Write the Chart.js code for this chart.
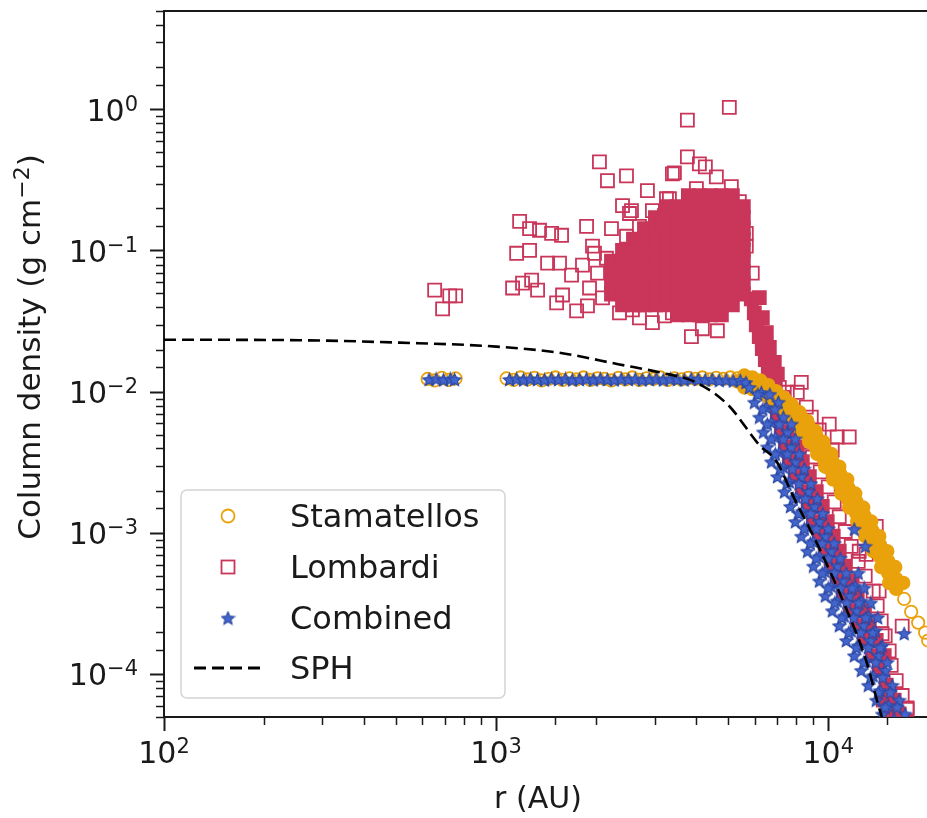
<!DOCTYPE html>
<html>
<head>
<meta charset="utf-8">
<script src="https://cdn.jsdelivr.net/npm/chart.js@4/dist/chart.umd.min.js"></script>
<style>
  html, body { margin: 0; padding: 0; background: #ffffff; overflow: hidden; }
  #frame { position: absolute; left: 0; top: 0; width: 927px; height: 818px; overflow: hidden; background: #ffffff; }
  #plot { position: absolute; left: 0; top: 0; }
</style>
</head>
<body>
<div id="frame"><canvas id="plot" width="960" height="818"></canvas></div>
<script>
// ---- column density profiles: r in AU, sigma in g cm^-2 ----

// Stamatellos: flat inner plateau and the few separate outer markers
const stamatellosOpen = [
  [622,0.0124],[653,0.0121],[686,0.0126],[720,0.0122],[755,0.0125],
  [1075,0.0125],[1129,0.0122],[1185,0.0127],[1243,0.0123],[1306,0.0126],[1371,0.0121],
  [1439,0.0124],[1510,0.0127],[1585,0.0122],[1664,0.0125],[1747,0.0123],[1833,0.0127],
  [1924,0.0122],[2020,0.0125],[2120,0.0124],[2225,0.0121],[2335,0.0126],[2452,0.0123],
  [2573,0.0127],[2701,0.0122],[2835,0.0125],[2976,0.0124],[3124,0.0127],[3279,0.0122],
  [3442,0.0125],[3613,0.0123],[3792,0.0126],[3981,0.0124],[4179,0.0127],[4386,0.0123],
  [4604,0.0126],[4833,0.0124],[5073,0.0127],[5325,0.0125],
  [16931,3.43e-4],[17770,2.78e-4],[18652,2.33e-4],[19580,1.98e-4],[19991,1.74e-4]
];

// Stamatellos: densely packed outer decline
const stamatellosDense = [
  [5589,0.0131],[5589,0.0108],[5909,0.0127],[5909,0.0105],[6245,0.0121],[6245,0.00997],
  [6602,0.0112],[6602,0.00919],[6977,0.0101],[6977,0.00834],[7375,0.00904],[7375,0.00745],
  [7796,0.00795],[7796,0.00654],[8240,0.00687],[8240,0.00565],[8710,0.00584],[8710,0.00481],
  [9204,0.00489],[9204,0.00403],[9729,0.00403],[9729,0.00331],[10280,0.00326],[10280,0.00269],
  [10867,0.00264],[10867,0.00218],[11486,0.00211],[11486,0.00173],[12141,0.00168],[12141,0.00138],
  [12834,0.00134],[12834,0.00110],[13564,0.00105],[13564,8.65e-4],[14337,8.23e-4],[14337,6.78e-4],
  [15154,6.35e-4],[15154,5.23e-4],[16018,4.75e-4],[16018,4.04e-4],
  [5324,0.0119],[5867,0.0119],[5629,0.01153],[6203,0.01153],[5949,0.01099],[6555,0.01099],
  [6289,0.01013],[6930,0.01013],[6647,0.00919],[7324,0.00919],[7026,0.00821],[7742,0.00821],
  [7427,0.00721],[8183,0.00721],[7850,0.00623],[8650,0.00623],[8298,0.0053],[9143,0.0053],
  [8768,0.00444],[9661,0.00444],[9268,0.00365],[10213,0.00365],[9793,0.00296],[10791,0.00296],
  [10353,0.0024],[11407,0.0024],[10942,0.00191],[12057,0.00191],[11566,0.00152],[12744,0.00152],
  [12226,0.00121],[13472,0.00121],[12922,9.53e-4],[14238,9.53e-4],[13658,7.47e-4],[15050,7.47e-4],
  [14436,5.77e-4],[15907,5.77e-4],[15260,4.45e-4],[16814,4.45e-4]
];

// Lombardi: scattered individual markers
const lombardiOpen = [
  [653,0.0528],[690,0.0388],[725,0.048],[755,0.048],
  [2047,0.427],[2164,0.314],[2469,0.34],[2855,0.267],[3395,0.351],[2402,0.209],[2556,0.193],
  [5037,1.04],[3766,0.843],[3766,0.463],[4093,0.413],[4266,0.393],[4604,0.334],[3442,0.357],
  [5108,0.285],[5398,0.223],[4009,0.276],[3257,0.234],[3613,0.193],[2955,0.193],[2521,0.184],
  [2469,0.127],[2701,0.149],[3170,0.156],
  [1177,0.162],[1261,0.144],[1351,0.14],[1469,0.133],[1574,0.129],[1872,0.149],[2225,0.144],
  [1153,0.0962],[1261,0.101],[1429,0.0818],[1552,0.0818],
  [1121,0.0546],[1201,0.0592],[1279,0.0621],[1333,0.0528],
  [1521,0.0428],[1585,0.0487],[1747,0.0376],[1884,0.0408],[1687,0.0673],[1820,0.0793],[1951,0.108],
  [2352,0.0364],[2573,0.0382],[2955,0.031],[3212,0.0347],
  [1911,0.0546],[2020,0.0696],[2091,0.0465],[2149,0.0887],[1978,0.0962],
  [3873,0.0247],[4178,0.0281],[4637,0.0272],[2701,0.0336],[6332,0.0231],
  [5666,0.108],[5906,0.0696],[5666,0.133],[3212,0.178],[3325,0.234],[3395,0.0364],[3613,0.0364],
  [8295,0.0117],[7528,0.00997],[8068,0.00997],[8588,0.00782],[9395,0.00539],[10069,0.00594],
  [10641,0.00481],[11566,0.00481],[10280,0.00389],[13950,0.00112],[12396,7.46e-4],[13010,7.1e-4],
  [14230,3.9e-4],[14530,1.95e-4],[16700,2.2e-4],[17280,5.8e-5],[7122,0.0108],[8890,0.00665],
  [7324,0.00916],[7636,0.00718],[8183,0.00564],[8531,0.00442],[8955,0.00347],[9462,0.00272],
  [9999,0.00213],[10424,0.00167],[10792,0.00131],[11250,0.00103],[11728,8.07e-4],[12310,6.33e-4],
  [12922,4.97e-4],[13658,3.9e-4],[14041,3.06e-4],[14437,2.4e-4],[14842,1.88e-4],[15259,1.47e-4],
  [15473,1.16e-4],[16018,9.06e-5],[16697,7.1e-5],[17283,5.67e-5]
];

// Lombardi: crowded core, rows of sigma with the radii filling each row
const lombardiCoreRows = [
  [0.246,  [3792,4093,4417,4767,5144]],
  [0.206,  [3257,3515,3792,4093,4417,4767,5144,5551]],
  [0.172,  [3018,3257,3515,3792,4093,4417,4767,5144,5551]],
  [0.144,  [2797,3018,3257,3515,3792,4093,4417,4767,5144,5551]],
  [0.121,  [2592,2797,3018,3257,3515,3792,4093,4417,4767,5144,5551]],
  [0.101,  [2402,2592,2797,3018,3257,3515,3792,4093,4417,4767,5144,5551]],
  [0.0845, [2225,2402,2592,2797,3018,3257,3515,3792,4093,4417,4767,5144,5551]],
  [0.0707, [2225,2402,2592,2797,3018,3257,3515,3792,4093,4417,4767,5144,5551]],
  [0.0592, [2225,2402,2592,2797,3018,3257,3515,3792,4093,4417,4767,5144,5551]],
  [0.0495, [2225,2402,2592,2797,3018,3257,3515,3792,4093,4417,4767,5144,5551]],
  [0.0415, [2402,2592,2797,3018,3257,3515,3792,4093,4417,4767,5144]],
  [0.0353, [3515,3792,4093,4417,4767]]
];

// Lombardi: crowded tail and steep outer fall-off
const lombardiDense = [
  [5866,0.0457],[5989,0.0364],[6073,0.03],[6200,0.0247],[6332,0.0203],[6465,0.017],[6600,0.0142],
  [6740,0.0121],[6200,0.0466],[6332,0.0336],[6510,0.0264],[6646,0.0207],[6880,0.0162],[7025,0.0134],
  [6648,0.0108],[6929,0.0108],[6741,0.00848],[7026,0.00665],[7224,0.00522],[7796,0.00522],
  [7427,0.00409],[8070,0.00409],[7636,0.00321],[8355,0.00321],[7959,0.00252],[8771,0.00252],
  [8355,0.00197],[9204,0.00197],[8710,0.00155],[9594,0.00155],[9018,0.00121],[9930,0.00121],
  [9397,9.53e-4],[10352,9.53e-4],[9794,7.47e-4],[10792,7.47e-4],[10210,5.86e-4],[11250,5.86e-4],
  [10643,4.6e-4],[11728,4.6e-4],[11095,3.61e-4],[12225,3.61e-4],[11646,2.83e-4],[12834,2.83e-4],
  [12225,2.22e-4],[13285,2.22e-4],[12834,1.74e-4],[13945,1.74e-4],[13564,1.36e-4],[14741,1.36e-4],
  [14238,1.07e-4],[14946,8.39e-5],[14638,6.58e-5],[15796,6.58e-5],[15154,5.25e-5],[16354,5.25e-5]
];

// Combined estimator
const combinedPoints = [
  [628,0.0123],[660,0.0124],[694,0.0122],[728,0.0124],[750,0.0123],
  [1097,0.0123],[1152,0.0124],[1209,0.0122],[1268,0.0124],[1332,0.0123],[1398,0.0122],
  [1468,0.0124],[1540,0.0123],[1617,0.0124],[1697,0.0122],[1782,0.0123],[1870,0.0124],
  [1962,0.0122],[2060,0.0124],[2162,0.0123],[2270,0.0122],[2382,0.0124],[2501,0.0123],
  [2624,0.0124],[2755,0.0122],[2892,0.0123],[3036,0.0124],[3186,0.0122],[3345,0.0124],
  [3511,0.0123],[3685,0.0122],[3868,0.0124],[4061,0.0123],[4263,0.0122],[4474,0.0123],
  [4696,0.0121],[4930,0.0122],[5174,0.012],[5432,0.0121],[5650,0.0117],
  [5787,0.0108],[6289,0.00994],
  [5991,0.00848],[6511,0.0078],[7075,0.00848],
  [6202,0.00665],[6741,0.00612],[7324,0.00665],
  [6376,0.00522],[6929,0.0048],[7531,0.00522],
  [6556,0.00409],[7124,0.00376],[7743,0.00409],
  [6741,0.00321],[7324,0.00295],[7959,0.00321],
  [7026,0.00252],[7636,0.00232],[8297,0.00252],
  [7375,0.00197],[8015,0.00181],[8710,0.00197],
  [7689,0.00155],[8355,0.00143],[9081,0.00155],
  [7959,0.00121],[8650,0.00111],[9397,0.00121],
  [8297,9.53e-4],[9018,8.77e-4],[9794,9.53e-4],
  [8650,7.47e-4],[9397,6.87e-4],[10210,7.47e-4],
  [9018,5.86e-4],[9794,5.39e-4],[10643,5.86e-4],
  [9397,4.6e-4],[10210,4.23e-4],[11095,4.6e-4],[12057,4.23e-4],
  [9794,3.61e-4],[10643,3.32e-4],[11566,3.61e-4],[12569,3.32e-4],
  [10280,2.83e-4],[11173,2.6e-4],[12141,2.83e-4],[13193,2.6e-4],
  [10792,2.22e-4],[11728,2.04e-4],[12744,2.22e-4],[13849,2.04e-4],
  [11328,1.74e-4],[12310,1.6e-4],[13377,1.74e-4],[14537,1.6e-4],
  [11974,1.36e-4],[13012,1.25e-4],[14140,1.36e-4],
  [12569,1.07e-4],[13658,9.8e-5],[14842,1.07e-4],
  [13193,8.39e-5],[14337,7.7e-5],[15580,8.39e-5],
  [13945,6.58e-5],[15154,6.05e-5],[16354,6.58e-5],
  [14537,5.25e-5],[15796,4.83e-5],[17046,5.25e-5],
  [11974,0.00107],[12922,8.1e-4],[16930,1.95e-4],
  [6138,0.00965],[6671,0.00965],
  [6354,0.00757],[6905,0.00757],
  [6557,0.00594],[7124,0.00594],[7743,0.00594],
  [6741,0.00466],[7324,0.00466],[7959,0.00466],
  [6929,0.00365],[7531,0.00365],[8183,0.00365],
  [7174,0.00286],[7796,0.00286],[8471,0.00286],
  [7505,0.00225],[8155,0.00225],[8863,0.00225],
  [7851,0.00176],[8531,0.00176],[9268,0.00176],
  [8155,0.00138],[8863,0.00138],[9628,0.00138],
  [8471,0.00108],[9204,0.00108],[9999,0.00108],
  [8832,8.51e-4],[9594,8.51e-4],[10424,8.51e-4],
  [9204,6.67e-4],[9999,6.67e-4],[10867,6.67e-4],
  [9594,5.23e-4],[10424,5.23e-4],[11328,5.23e-4],[12310,5.23e-4],
  [9999,4.1e-4],[10867,4.1e-4],[11809,4.1e-4],[12833,4.1e-4],
  [10460,3.22e-4],[11367,3.22e-4],[12353,3.22e-4],[13424,3.22e-4],
  [10981,2.53e-4],[11932,2.53e-4],[12967,2.53e-4],[14091,2.53e-4],
  [11526,1.98e-4],[12526,1.98e-4],[13611,1.98e-4],
  [12141,1.55e-4],[13193,1.55e-4],[14337,1.55e-4],
  [12789,1.22e-4],[13897,1.22e-4],[15049,1.22e-4],
  [13424,9.56e-5],[14588,9.56e-5],
  [14139,7.49e-5],[15365,7.49e-5],
  [14842,5.88e-5],[16129,5.88e-5]
];

// SPH reference profile
const sphR     = [100, 256, 513, 1000, 1550, 2350, 3100, 4000, 5000, 6200, 7000, 7800, 9400, 11300, 13000, 14200, 14600];
const sphSigma = [0.0235, 0.0233, 0.0224, 0.021, 0.019, 0.0157, 0.0138, 0.0117, 0.00808, 0.00422, 0.00321, 0.00188, 7.84e-4, 2.97e-4, 1.26e-4, 5.88e-5, 4.76e-5];

// axis ranges and labelled decades
const xRange = [100, 23100];
const yRange = [5e-5, 5];
const xDecades = [100, 1000, 10000];
const yDecades = [1e-4, 1e-3, 1e-2, 1e-1, 1];

const seriesNames = ['Stamatellos', 'Lombardi', 'Combined', 'SPH'];

// ---- styling ----
const FONT = '"DejaVu Sans", "Liberation Sans", sans-serif';
const INK = '#1a1a1a';
const ORANGE = '#e9a20b';
const CRIMSON = '#c9365a';

function toXY(pairs) { return pairs.map(([r, s]) => ({ x: r, y: s })); }
const lombardiCore = [];
lombardiCoreRows.forEach(([s, rs]) => rs.forEach(r => lombardiCore.push([r, s])));
const sphPoints = sphR.map((r, i) => ({ x: r, y: sphSigma[i] }));

function starMarker(d, fill, stroke) {
  const c = document.createElement('canvas');
  c.width = d; c.height = d;
  const g = c.getContext('2d');
  const ro = d / 2 - 0.8, ri = ro * 0.46;
  g.translate(d / 2, d / 2 + 0.7);
  g.beginPath();
  for (let i = 0; i < 10; i++) {
    const a = -Math.PI / 2 + i * Math.PI / 5;
    const rad = i % 2 ? ri : ro;
    const px = Math.cos(a) * rad, py = Math.sin(a) * rad;
    if (i === 0) g.moveTo(px, py); else g.lineTo(px, py);
  }
  g.closePath();
  g.fillStyle = fill; g.fill();
  g.strokeStyle = stroke; g.lineWidth = 1.2; g.stroke();
  return c;
}
const starImg = starMarker(15, '#4466cc', '#2c48a6');

function isDecade(v) {
  const l = Math.log10(v);
  return Math.abs(l - Math.round(l)) < 1e-9;
}

function powerLabel(ctx, exp, x, baseline, align) {
  const base = '10';
  const sup = exp < 0 ? '\u2212' + (-exp) : String(exp);
  ctx.font = '30px ' + FONT;
  const wb = ctx.measureText(base).width;
  ctx.font = '21px ' + FONT;
  const ws = ctx.measureText(sup).width;
  const total = wb + ws;
  const sx = align === 'center' ? x - total / 2 : x - total;
  ctx.textAlign = 'left';
  ctx.textBaseline = 'alphabetic';
  ctx.font = '30px ' + FONT;
  ctx.fillText(base, sx, baseline);
  ctx.font = '21px ' + FONT;
  ctx.fillText(sup, sx + wb, baseline - 10);
}

const decorations = {
  id: 'decorations',
  afterDraw(chart) {
    const { ctx, chartArea: a, scales } = chart;
    const xs = scales.x, ys = scales.y;
    ctx.save();
    ctx.strokeStyle = INK;
    ctx.fillStyle = INK;

    // top frame line
    ctx.lineWidth = 2;
    ctx.beginPath();
    ctx.moveTo(a.left - 1, a.top);
    ctx.lineTo(a.right, a.top);
    ctx.stroke();

    // minor ticks
    ctx.lineWidth = 1.5;
    ctx.beginPath();
    xs.ticks.forEach(t => {
      if (isDecade(t.value)) return;
      const px = Math.round(xs.getPixelForValue(t.value)) + 0.5;
      ctx.moveTo(px, a.bottom); ctx.lineTo(px, a.bottom + 8);
    });
    ys.ticks.forEach(t => {
      if (isDecade(t.value)) return;
      const py = Math.round(ys.getPixelForValue(t.value)) + 0.5;
      ctx.moveTo(a.left, py); ctx.lineTo(a.left - 8, py);
    });
    ctx.stroke();

    // decade labels
    xDecades.forEach(v => {
      powerLabel(ctx, Math.round(Math.log10(v)), xs.getPixelForValue(v), a.bottom + 46, 'center');
    });
    yDecades.forEach(v => {
      powerLabel(ctx, Math.round(Math.log10(v)), a.left - 26, ys.getPixelForValue(v) + 11, 'right');
    });

    // x title
    ctx.font = '30px ' + FONT;
    ctx.textAlign = 'center';
    ctx.textBaseline = 'alphabetic';
    ctx.fillText('r (AU)', 538, 808);

    // y title with superscript
    const main = 'Column density (g cm', sup = '\u22122', tail = ')';
    ctx.font = '31px ' + FONT;
    const w1 = ctx.measureText(main).width, w3 = ctx.measureText(tail).width;
    ctx.font = '22px ' + FONT;
    const w2 = ctx.measureText(sup).width;
    const tot = w1 + w2 + w3;
    ctx.save();
    ctx.translate(40, 347);
    ctx.rotate(-Math.PI / 2);
    ctx.textAlign = 'left';
    let sx = -tot / 2;
    ctx.font = '31px ' + FONT; ctx.fillText(main, sx, 0);
    ctx.font = '22px ' + FONT; ctx.fillText(sup, sx + w1, -11);
    ctx.font = '31px ' + FONT; ctx.fillText(tail, sx + w1 + w2, 0);
    ctx.restore();

    // legend
    const bx = 181, by = 490, bw = 324, bh = 208, rr = 6;
    ctx.beginPath();
    ctx.moveTo(bx + rr, by);
    ctx.arcTo(bx + bw, by, bx + bw, by + bh, rr);
    ctx.arcTo(bx + bw, by + bh, bx, by + bh, rr);
    ctx.arcTo(bx, by + bh, bx, by, rr);
    ctx.arcTo(bx, by, bx + bw, by, rr);
    ctx.closePath();
    ctx.fillStyle = 'rgba(255,255,255,0.8)';
    ctx.fill();
    ctx.strokeStyle = '#d4d4d4';
    ctx.lineWidth = 1.5;
    ctx.stroke();

    const mx = 228, tx = 290;
    const rows = [516, 567, 618, 668];
    ctx.beginPath(); ctx.arc(mx, rows[0], 6.5, 0, Math.PI * 2);
    ctx.strokeStyle = ORANGE; ctx.lineWidth = 1.8; ctx.stroke();
    ctx.strokeStyle = CRIMSON; ctx.lineWidth = 1.8;
    ctx.strokeRect(mx - 6.5, rows[1] - 6.5, 13, 13);
    ctx.drawImage(starImg, mx - 7.5, rows[2] - 7.5);
    ctx.beginPath(); ctx.setLineDash([12, 6]);
    ctx.moveTo(194, rows[3]); ctx.lineTo(263, rows[3]);
    ctx.strokeStyle = '#000'; ctx.lineWidth = 3; ctx.stroke();
    ctx.setLineDash([]);

    ctx.fillStyle = INK;
    ctx.font = '32px ' + FONT;
    ctx.textAlign = 'left';
    ctx.textBaseline = 'alphabetic';
    seriesNames.forEach((name, i) => ctx.fillText(name, tx, rows[i] + 11));

    ctx.restore();
  }
};

const axisGrid = {
  display: true,
  drawOnChartArea: false,
  drawTicks: true,
  tickLength: 14,
  tickWidth: 2,
  tickColor: (c) => (c.tick && isDecade(c.tick.value)) ? INK : 'rgba(0,0,0,0)'
};

new Chart(document.getElementById('plot'), {
  type: 'scatter',
  data: {
    datasets: [
      { label: 'SPH', data: sphPoints, showLine: true, borderColor: '#000', borderWidth: 2.6,
        borderDash: [12, 6], pointRadius: 0, fill: false, cubicInterpolationMode: 'monotone', order: 0 },
      { label: 'Combined', data: toXY(combinedPoints), pointStyle: starImg, pointRadius: 7, order: 1 },
      { label: 'Stamatellos', data: toXY(stamatellosOpen), pointStyle: 'circle', pointRadius: 6.2,
        borderWidth: 1.8, borderColor: ORANGE, backgroundColor: 'rgba(0,0,0,0)', order: 2 },
      { label: 'Stamatellos', data: toXY(stamatellosDense), pointStyle: 'circle', pointRadius: 6.5,
        borderWidth: 1.5, borderColor: ORANGE, backgroundColor: ORANGE, order: 2 },
      { label: 'Lombardi', data: toXY(lombardiOpen), pointStyle: 'rect', pointRadius: 9.2,
        borderWidth: 1.8, borderColor: CRIMSON, backgroundColor: 'rgba(0,0,0,0)', order: 3 },
      { label: 'Lombardi', data: toXY(lombardiCore), pointStyle: 'rect', pointRadius: 9.2,
        borderWidth: 1.8, borderColor: CRIMSON, backgroundColor: CRIMSON, order: 3 },
      { label: 'Lombardi', data: toXY(lombardiDense), pointStyle: 'rect', pointRadius: 9.2,
        borderWidth: 1.8, borderColor: CRIMSON, backgroundColor: CRIMSON, order: 3 }
    ]
  },
  options: {
    responsive: false,
    animation: false,
    devicePixelRatio: 1,
    events: [],
    layout: { padding: { left: 150, right: 10, top: 6, bottom: 87 } },
    scales: {
      x: {
        type: 'logarithmic', min: xRange[0], max: xRange[1],
        ticks: { display: false, autoSkip: false },
        grid: axisGrid,
        border: { display: true, color: INK, width: 2 },
        title: { display: false }
      },
      y: {
        type: 'logarithmic', min: yRange[0], max: yRange[1],
        ticks: { display: false, autoSkip: false },
        grid: axisGrid,
        border: { display: true, color: INK, width: 2 },
        title: { display: false }
      }
    },
    plugins: { legend: { display: false }, tooltip: { enabled: false } }
  },
  plugins: [decorations]
});
</script>
</body>
</html>
